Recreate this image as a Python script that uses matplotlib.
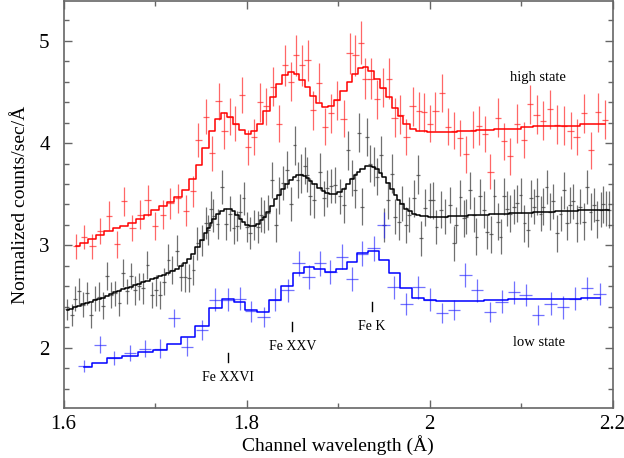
import numpy as np
import matplotlib.pyplot as plt
from matplotlib.ticker import MultipleLocator, FuncFormatter

# spectra: (wavelength, counts, error, folded model) per channel
high_rows = [
    (1.6137, 2.99, 0.12, 2.99), (1.6224, 3.08, 0.12, 3.02), (1.6315, 2.99, 0.12, 3.06),
    (1.6399, 3.14, 0.13, 3.10), (1.6495, 3.29, 0.14, 3.14), (1.6582, 3.01, 0.13, 3.17),
    (1.6662, 3.43, 0.14, 3.19), (1.6753, 3.17, 0.13, 3.22), (1.6840, 3.30, 0.14, 3.26),
    (1.6919, 3.44, 0.15, 3.30), (1.7001, 3.19, 0.14, 3.35), (1.7085, 3.30, 0.14, 3.385),
    (1.7168, 3.41, 0.15, 3.42), (1.7249, 3.46, 0.14, 3.47), (1.7337, 3.34, 0.15, 3.54),
    (1.7414, 3.53, 0.15, 3.65), (1.7475, 4.03, 0.17, 3.79), (1.7556, 4.26, 0.17, 3.95),
    (1.7621, 3.90, 0.17, 4.12), (1.7694, 4.41, 0.18, 4.24), (1.7759, 4.12, 0.18, 4.29),
    (1.7822, 4.26, 0.18, 4.26), (1.7876, 4.19, 0.17, 4.19), (1.7950, 4.47, 0.18, 4.13),
    (1.8015, 3.96, 0.17, 4.09), (1.8084, 4.06, 0.18, 4.12), (1.8150, 4.40, 0.19, 4.19),
    (1.8216, 4.36, 0.18, 4.31), (1.8287, 4.55, 0.19, 4.45), (1.8352, 4.19, 0.18, 4.58),
    (1.8418, 4.76, 0.20, 4.67), (1.8486, 4.60, 0.19, 4.70), (1.8544, 4.86, 0.20, 4.68),
    (1.8609, 4.76, 0.20, 4.62), (1.8667, 4.81, 0.20, 4.55), (1.8727, 4.32, 0.19, 4.46),
    (1.8792, 4.59, 0.19, 4.39), (1.8858, 4.16, 0.18, 4.35), (1.8923, 4.29, 0.19, 4.36),
    (1.8989, 4.42, 0.19, 4.42), (1.9061, 4.24, 0.18, 4.51), (1.9127, 4.88, 0.20, 4.60),
    (1.9189, 4.86, 0.20, 4.68), (1.9252, 4.98, 0.21, 4.73), (1.9299, 4.63, 0.20, 4.74),
    (1.9361, 4.63, 0.20, 4.71), (1.9427, 4.43, 0.19, 4.63), (1.9492, 4.54, 0.19, 4.54),
    (1.9554, 4.63, 0.20, 4.45), (1.9619, 4.25, 0.19, 4.34), (1.9682, 4.28, 0.19, 4.265),
    (1.9747, 4.06, 0.18, 4.19), (1.9816, 4.36, 0.19, 4.14), (1.9882, 4.31, 0.19, 4.12),
    (1.9937, 4.30, 0.19, 4.12), (2.0002, 4.19, 0.18, 4.11), (2.0065, 4.31, 0.19, 4.11),
    (2.0138, 4.49, 0.19, 4.11), (2.0199, 4.16, 0.18, 4.11), (2.0265, 4.12, 0.18, 4.11),
    (2.0330, 4.05, 0.18, 4.115), (2.0400, 3.89, 0.18, 4.115), (2.0477, 4.13, 0.18, 4.115),
    (2.0538, 4.17, 0.19, 4.13), (2.0604, 4.09, 0.18, 4.13), (2.0666, 3.72, 0.17, 4.13),
    (2.0746, 4.25, 0.19, 4.14), (2.0812, 4.02, 0.18, 4.14), (2.0877, 3.87, 0.18, 4.14),
    (2.0958, 4.19, 0.19, 4.14), (2.1031, 4.03, 0.18, 4.155), (2.1096, 4.38, 0.19, 4.155),
    (2.1170, 4.28, 0.19, 4.165), (2.1243, 4.22, 0.19, 4.165), (2.1315, 4.33, 0.19, 4.165),
    (2.1396, 4.18, 0.19, 4.17), (2.1468, 4.17, 0.19, 4.17), (2.1542, 4.12, 0.18, 4.17),
    (2.1607, 4.06, 0.18, 4.17), (2.1687, 4.29, 0.19, 4.185), (2.1768, 3.93, 0.18, 4.185),
    (2.1840, 4.30, 0.19, 4.19), (2.1917, 4.23, 0.19, 4.19),
]

mean_rows = [
    (1.6035, 2.375, 0.10, 2.37), (1.6090, 2.32, 0.11, 2.38), (1.6126, 2.48, 0.12, 2.40),
    (1.6170, 2.55, 0.13, 2.41), (1.6217, 2.42, 0.12, 2.43), (1.6260, 2.53, 0.11, 2.44),
    (1.6301, 2.32, 0.13, 2.45), (1.6345, 2.48, 0.12, 2.47), (1.6392, 2.50, 0.14, 2.48),
    (1.6429, 2.41, 0.13, 2.49), (1.6473, 2.70, 0.14, 2.51), (1.6516, 2.515, 0.13, 2.52),
    (1.6563, 2.53, 0.12, 2.54), (1.6611, 2.44, 0.13, 2.55), (1.6654, 2.73, 0.14, 2.57),
    (1.6692, 2.55, 0.12, 2.58), (1.6739, 2.70, 0.13, 2.59), (1.6782, 2.56, 0.14, 2.61),
    (1.6829, 2.60, 0.13, 2.62), (1.6873, 2.58, 0.15, 2.64), (1.6917, 2.81, 0.14, 2.65),
    (1.6965, 2.515, 0.13, 2.67), (1.7009, 2.56, 0.15, 2.68), (1.7056, 2.515, 0.14, 2.70),
    (1.7100, 2.645, 0.13, 2.71), (1.7147, 2.86, 0.15, 2.73), (1.7190, 2.76, 0.14, 2.75),
    (1.7239, 2.95, 0.15, 2.77), (1.7282, 2.69, 0.14, 2.80), (1.7329, 2.69, 0.15, 2.83),
    (1.7373, 2.68, 0.14, 2.87), (1.7420, 2.76, 0.15, 2.92), (1.7464, 3.02, 0.16, 2.98),
    (1.7512, 3.05, 0.15, 3.05), (1.7556, 3.22, 0.16, 3.12), (1.7584, 3.15, 0.15, 3.17),
    (1.7611, 3.36, 0.17, 3.22), (1.7639, 3.29, 0.16, 3.26), (1.7683, 3.21, 0.15, 3.31),
    (1.7731, 3.57, 0.17, 3.34), (1.7778, 3.21, 0.16, 3.36), (1.7822, 3.31, 0.17, 3.36),
    (1.7858, 3.17, 0.16, 3.34), (1.7895, 3.19, 0.15, 3.30), (1.7931, 3.33, 0.17, 3.26),
    (1.7967, 3.46, 0.16, 3.23), (1.8004, 3.18, 0.15, 3.20), (1.8041, 3.12, 0.16, 3.19),
    (1.8084, 3.20, 0.15, 3.19), (1.8125, 3.18, 0.16, 3.21), (1.8161, 3.30, 0.17, 3.25),
    (1.8194, 3.28, 0.16, 3.28), (1.8238, 3.32, 0.17, 3.33), (1.8278, 3.64, 0.18, 3.39),
    (1.8322, 3.20, 0.17, 3.45), (1.8350, 3.49, 0.18, 3.49), (1.8398, 3.61, 0.17, 3.55),
    (1.8442, 3.74, 0.18, 3.60), (1.8486, 3.405, 0.17, 3.64), (1.8525, 3.98, 0.19, 3.67),
    (1.8558, 3.64, 0.18, 3.69), (1.8599, 3.70, 0.19, 3.69), (1.8635, 3.78, 0.18, 3.68),
    (1.8661, 3.69, 0.17, 3.66), (1.8697, 3.48, 0.18, 3.63), (1.8741, 3.44, 0.17, 3.60),
    (1.8799, 3.72, 0.18, 3.56), (1.8843, 3.46, 0.17, 3.53), (1.8880, 3.56, 0.18, 3.51),
    (1.8923, 3.58, 0.17, 3.50), (1.8970, 3.59, 0.18, 3.50), (1.9018, 3.48, 0.17, 3.52),
    (1.9061, 3.395, 0.18, 3.55), (1.9110, 3.93, 0.19, 3.60), (1.9153, 3.66, 0.18, 3.65),
    (1.9189, 3.54, 0.17, 3.69), (1.9225, 4.10, 0.19, 3.72), (1.9263, 3.38, 0.18, 3.75),
    (1.9317, 4.06, 0.19, 3.78), (1.9353, 3.80, 0.18, 3.78), (1.9390, 3.77, 0.19, 3.77),
    (1.9427, 3.67, 0.18, 3.75), (1.9471, 3.88, 0.19, 3.71), (1.9499, 3.20, 0.17, 3.67),
    (1.9543, 3.44, 0.18, 3.61), (1.9587, 3.70, 0.19, 3.55), (1.9627, 3.28, 0.17, 3.49),
    (1.9663, 3.23, 0.18, 3.44), (1.9700, 3.41, 0.17, 3.40), (1.9744, 3.20, 0.18, 3.36),
    (1.9780, 3.30, 0.17, 3.34), (1.9827, 3.46, 0.18, 3.31), (1.9871, 3.69, 0.19, 3.30),
    (1.9911, 3.07, 0.17, 3.29), (1.9955, 3.37, 0.18, 3.29), (2.0002, 3.44, 0.17, 3.28),
    (2.0039, 3.44, 0.18, 3.28), (2.0076, 3.18, 0.17, 3.28), (2.0127, 3.35, 0.18, 3.28),
    (2.0174, 3.28, 0.17, 3.28), (2.0221, 3.395, 0.18, 3.29), (2.0265, 3.02, 0.17, 3.29),
    (2.0294, 3.20, 0.18, 3.29), (2.0338, 3.47, 0.17, 3.29), (2.0374, 3.265, 0.18, 3.29),
    (2.0404, 3.28, 0.17, 3.29), (2.0440, 3.54, 0.18, 3.30), (2.0484, 3.30, 0.17, 3.30),
    (2.0513, 3.085, 0.18, 3.30), (2.0549, 3.48, 0.17, 3.30), (2.0593, 3.35, 0.18, 3.30),
    (2.0630, 3.13, 0.17, 3.30), (2.0674, 3.11, 0.18, 3.31), (2.0710, 3.48, 0.17, 3.31),
    (2.0746, 3.23, 0.18, 3.31), (2.0776, 3.085, 0.17, 3.31), (2.0812, 3.48, 0.18, 3.31),
    (2.0849, 3.36, 0.17, 3.31), (2.0885, 3.31, 0.18, 3.32), (2.0921, 3.38, 0.17, 3.32),
    (2.0958, 3.41, 0.18, 3.32), (2.0995, 3.49, 0.17, 3.32), (2.1038, 3.215, 0.18, 3.32),
    (2.1074, 3.15, 0.17, 3.32), (2.1112, 3.46, 0.18, 3.32), (2.1140, 3.38, 0.17, 3.33),
    (2.1177, 3.48, 0.18, 3.33), (2.1213, 3.31, 0.17, 3.33), (2.1243, 3.38, 0.18, 3.33),
    (2.1279, 3.57, 0.17, 3.33), (2.1315, 3.33, 0.18, 3.33), (2.1352, 3.43, 0.17, 3.33),
    (2.1396, 3.12, 0.18, 3.34), (2.1432, 3.31, 0.17, 3.34), (2.1468, 3.54, 0.18, 3.34),
    (2.1506, 3.22, 0.17, 3.34), (2.1534, 3.395, 0.18, 3.34), (2.1571, 3.43, 0.17, 3.34),
    (2.1607, 3.215, 0.18, 3.34), (2.1643, 3.38, 0.17, 3.35), (2.1687, 3.23, 0.18, 3.35),
    (2.1724, 3.57, 0.17, 3.35), (2.1760, 3.33, 0.18, 3.35), (2.1797, 3.395, 0.17, 3.35),
    (2.1834, 3.25, 0.18, 3.35), (2.1870, 3.35, 0.17, 3.35), (2.1900, 3.40, 0.18, 3.35),
    (2.1925, 3.36, 0.17, 3.35), (2.1961, 3.35, 0.18, 3.35),
]

low_rows = [
    (1.6224, 1.82, 0.06, 1.81), (1.6399, 2.03, 0.08, 1.85), (1.6553, 1.90, 0.07, 1.90),
    (1.6728, 1.945, 0.08, 1.92), (1.6892, 1.99, 0.08, 1.96), (1.7056, 1.99, 0.09, 1.98),
    (1.7209, 2.29, 0.09, 2.04), (1.7351, 2.01, 0.09, 2.10), (1.7512, 2.17, 0.10, 2.21),
    (1.7658, 2.47, 0.11, 2.385), (1.7803, 2.47, 0.11, 2.48), (1.7926, 2.48, 0.11, 2.45),
    (1.8051, 2.355, 0.10, 2.37), (1.8186, 2.30, 0.10, 2.35), (1.8314, 2.47, 0.11, 2.47),
    (1.8449, 2.56, 0.11, 2.60), (1.8569, 2.825, 0.12, 2.73), (1.8678, 2.69, 0.12, 2.79),
    (1.8806, 2.825, 0.12, 2.77), (1.8916, 2.74, 0.12, 2.74), (1.9044, 2.89, 0.12, 2.77),
    (1.9153, 2.67, 0.12, 2.84), (1.9263, 2.92, 0.12, 2.93), (1.9390, 2.97, 0.12, 2.945),
    (1.9499, 3.20, 0.13, 2.86), (1.9608, 2.59, 0.11, 2.73), (1.9747, 2.425, 0.11, 2.58),
    (1.9879, 2.59, 0.11, 2.49), (2.0002, 2.47, 0.11, 2.47), (2.0138, 2.34, 0.10, 2.455),
    (2.0265, 2.37, 0.10, 2.455), (2.0393, 2.71, 0.12, 2.455), (2.0521, 2.56, 0.11, 2.455),
    (2.0659, 2.35, 0.10, 2.47), (2.0787, 2.45, 0.11, 2.47), (2.0921, 2.54, 0.11, 2.48),
    (2.1049, 2.515, 0.11, 2.48), (2.1184, 2.32, 0.10, 2.48), (2.1323, 2.43, 0.11, 2.48),
    (2.1457, 2.395, 0.11, 2.48), (2.1589, 2.48, 0.11, 2.48), (2.1724, 2.58, 0.11, 2.49),
    (2.1859, 2.525, 0.11, 2.49),
]

# channel half widths (Angstrom)
high_halfbin = 0.0035
mean_halfbin = 0.0021
low_halfbin = 0.0068

# line identifications: label, wavelength, marker bottom/top, label y
line_names = ["Fe XXVI", "Fe XXV", "Fe K"]
line_wave = [1.780, 1.850, 1.937]
line_lo = [1.863, 2.166, 2.36]
line_hi = [1.948, 2.248, 2.45]
line_label_y = [1.707, 2.01, 2.205]

plt.rcParams['font.family'] = ['Liberation Serif', 'DejaVu Serif']

fig = plt.figure(figsize=(6.24, 4.58), dpi=100)
ax = fig.add_axes([0.1018, 0.1092, 0.8798, 0.8886])

series = [
    (mean_rows, mean_halfbin, '#000000', (0.25, 0.25, 0.25, 0.75)),
    (high_rows, high_halfbin, '#ff0000', (1.0, 0.15, 0.15, 0.7)),
    (low_rows, low_halfbin, '#0000ff', (0.15, 0.15, 1.0, 0.65)),
]
for rows, hb, col, ecol in series:
    x, y, err, model = map(np.array, zip(*rows))
    ax.errorbar(x, y, yerr=err, xerr=hb, fmt='none', ecolor=ecol,
                elinewidth=0.9, capsize=0, zorder=2)
    ax.step(x, model, where='mid', color=col, lw=1.1, zorder=3)

for name, w, lo, hi, ly in zip(line_names, line_wave, line_lo, line_hi, line_label_y):
    ax.plot([w, w], [lo, hi], color='black', lw=1.0)
    ax.text(w, ly, name, ha='center', va='center', fontsize=10)

ax.text(2.118, 4.646, 'high state', ha='center', va='center', fontsize=10.5)
ax.text(2.120, 2.046, 'low state', ha='center', va='center', fontsize=10.5)

ax.set_xlim(1.6, 2.2)
ax.set_ylim(1.41, 5.39)
ax.xaxis.set_major_locator(MultipleLocator(0.2))
ax.xaxis.set_minor_locator(MultipleLocator(0.1))
ax.yaxis.set_major_locator(MultipleLocator(1))
ax.yaxis.set_minor_locator(MultipleLocator(0.2))
fmt = FuncFormatter(lambda v, p: '%g' % round(v, 3))
ax.xaxis.set_major_formatter(fmt)
ax.yaxis.set_major_formatter(fmt)

ax.tick_params(which='both', direction='in', top=True, right=True,
               color='#666666', width=1.0, labelsize=15)
ax.tick_params(which='major', length=6)
ax.tick_params(which='minor', length=3.5)
ax.tick_params(axis='x', pad=5)
ax.tick_params(axis='y', pad=10)
for s in ax.spines.values():
    s.set_color('#666666')
    s.set_linewidth(1.2)

ax.set_xlabel('Channel wavelength (Å)', fontsize=14, labelpad=1)
ax.set_ylabel('Normalized counts/sec/Å', fontsize=14, labelpad=7)

fig.savefig('out.png', dpi=100)
